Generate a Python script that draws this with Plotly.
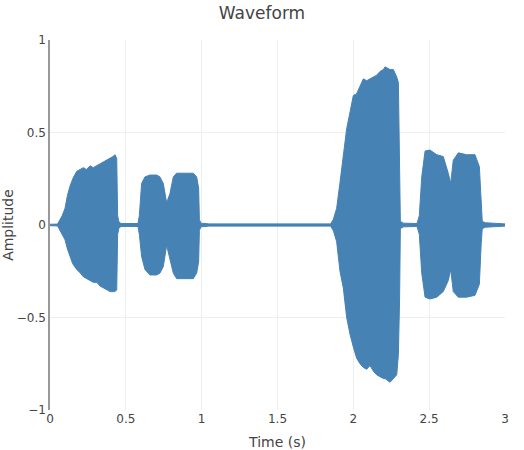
import plotly.graph_objects as go

# envelope of the waveform (seconds, amplitude)
env_time = [
    0.000, 0.050, 0.060, 0.080, 0.099, 0.115, 0.132, 0.150, 0.176, 0.200,
    0.220, 0.240, 0.264, 0.285, 0.308, 0.330, 0.352, 0.375, 0.396, 0.415,
    0.429, 0.440, 0.446, 0.455, 0.470, 0.580, 0.589, 0.604, 0.626, 0.659,
    0.703, 0.725, 0.747, 0.769, 0.791, 0.813, 0.835, 0.879, 0.945, 0.967,
    0.980, 0.985, 0.995, 1.050, 1.850, 1.868, 1.890, 1.912, 1.934, 1.956,
    1.978, 2.000, 2.022, 2.044, 2.066, 2.088, 2.110, 2.132, 2.154, 2.176,
    2.198, 2.209, 2.242, 2.264, 2.286, 2.297, 2.305, 2.310, 2.330, 2.420,
    2.435, 2.451, 2.473, 2.505, 2.550, 2.593, 2.626, 2.642, 2.659, 2.692,
    2.747, 2.802, 2.831, 2.843, 2.850, 2.870, 2.950, 3.000,
]
env_upper = [
    0.004, 0.005, 0.02, 0.05, 0.09, 0.16, 0.21, 0.25, 0.29, 0.30,
    0.31, 0.30, 0.32, 0.31, 0.32, 0.33, 0.34, 0.35, 0.36, 0.37,
    0.38, 0.36, 0.05, 0.015, 0.008, 0.008, 0.05, 0.225, 0.26, 0.27,
    0.27, 0.26, 0.225, 0.12, 0.17, 0.26, 0.28, 0.28, 0.28, 0.26,
    0.20, 0.03, 0.01, 0.006, 0.006, 0.03, 0.09, 0.23, 0.38, 0.52,
    0.61, 0.70, 0.71, 0.75, 0.79, 0.78, 0.79, 0.80, 0.81, 0.83,
    0.84, 0.855, 0.84, 0.84, 0.80, 0.77, 0.40, 0.02, 0.01, 0.008,
    0.05, 0.26, 0.40, 0.405, 0.38, 0.37, 0.28, 0.225, 0.35, 0.39,
    0.38, 0.38, 0.315, 0.10, 0.02, 0.012, 0.008, 0.006,
]
env_lower = [
    -0.004, -0.005, -0.02, -0.05, -0.08, -0.13, -0.17, -0.21, -0.24, -0.26,
    -0.28, -0.29, -0.30, -0.31, -0.31, -0.33, -0.34, -0.35, -0.36, -0.36,
    -0.36, -0.35, -0.05, -0.015, -0.008, -0.008, -0.05, -0.17, -0.24, -0.27,
    -0.27, -0.26, -0.225, -0.11, -0.19, -0.26, -0.29, -0.29, -0.29, -0.26,
    -0.20, -0.03, -0.01, -0.006, -0.006, -0.03, -0.09, -0.25, -0.34, -0.50,
    -0.59, -0.66, -0.72, -0.75, -0.77, -0.78, -0.76, -0.79, -0.81, -0.82,
    -0.83, -0.83, -0.85, -0.83, -0.81, -0.70, -0.40, -0.02, -0.01, -0.008,
    -0.05, -0.26, -0.39, -0.40, -0.39, -0.36, -0.30, -0.24, -0.36, -0.39,
    -0.39, -0.38, -0.32, -0.10, -0.02, -0.012, -0.008, -0.006,
]

x_ticks = [0, 0.5, 1, 1.5, 2, 2.5, 3]
y_ticks = [-1, -0.5, 0, 0.5, 1]

fig = go.Figure()
fig.add_trace(go.Scatter(
    x=env_time + env_time[::-1],
    y=env_upper + env_lower[::-1],
    mode='lines', fill='toself',
    line=dict(color='steelblue', width=1),
    fillcolor='steelblue',
    hoverinfo='skip', showlegend=False))

fig.update_layout(
    width=524, height=450,
    margin=dict(l=50, r=19, t=40, b=40),
    paper_bgcolor='white', plot_bgcolor='white',
    font=dict(family='Verdana, DejaVu Sans, sans-serif', size=12, color='#444'),
    title=dict(text='Waveform', x=0.5, xanchor='center', y=0.97,
               yanchor='middle', font=dict(size=17)),
)
fig.update_xaxes(title_text='Time (s)', range=[0, 3], tickvals=x_ticks,
                 showgrid=True, gridcolor='#eeeeee', zeroline=False,
                 showline=False, automargin=False)
fig.update_yaxes(title_text='Amplitude', range=[-1, 1], tickvals=y_ticks,
                 showgrid=True, gridcolor='#eeeeee', zeroline=False,
                 showline=True, linecolor='#999999', linewidth=1.5,
                 automargin=False)

# drop the default 8px body margin so the figure fills the window exactly
fig.write_html("out.html", config={'displayModeBar': False},
               post_script="document.body.style.margin = '0';")
